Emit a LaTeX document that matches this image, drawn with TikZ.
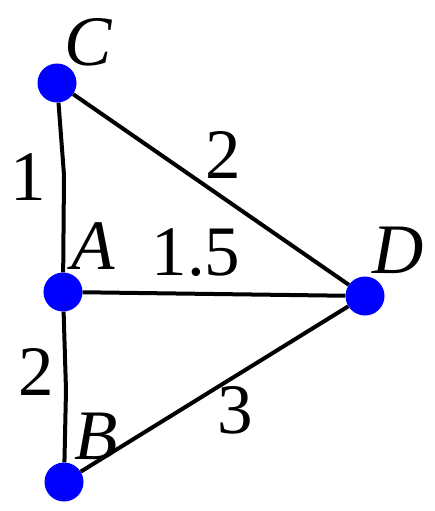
\documentclass[tikz,border=0pt]{standalone}
\usepackage{fontspec}
\setmainfont{Liberation Serif}
\begin{document}
\begin{tikzpicture}[x=1pt,y=-1pt,
  vertex/.style={circle,fill=blue,inner sep=0pt,minimum size=39pt},
  edge/.style={line width=4pt,black},
  lbl/.style={inner sep=0pt,font=\fontsize{71}{80}\selectfont}]
\useasboundingbox (0,0) rectangle (435,511);
\node[vertex] (C) at (57,83) {};
\node[vertex] (A) at (63,292) {};
\node[vertex] (B) at (64,482) {};
\node[vertex] (D) at (365,296) {};
\coordinate (cab) at (64,175);
\coordinate (abb) at (66,390);
\draw[edge] (C) -- (cab) -- (A);
\draw[edge] (A) -- (abb) -- (B);
\draw[edge] (C) -- (D);
\draw[edge] (A) -- (D);
\draw[edge] (B) -- (D);
\node[lbl] (lC) at (89,42) {\textit{C}};
\node[lbl] (lA) at (93,246) {\textit{A}};
\node[lbl] (lB) at (96,436) {\textit{B}};
\node[lbl] (lD) at (398,250) {\textit{D}};
\node[lbl] (w1) at (28,177) {1};
\node[lbl] (w2) at (223,155) {2};
\node[lbl] (w3) at (196,253) {1.5};
\node[lbl] (w4) at (36,372) {2};
\node[lbl] (w5) at (235,410) {3};
\end{tikzpicture}
\end{document}
